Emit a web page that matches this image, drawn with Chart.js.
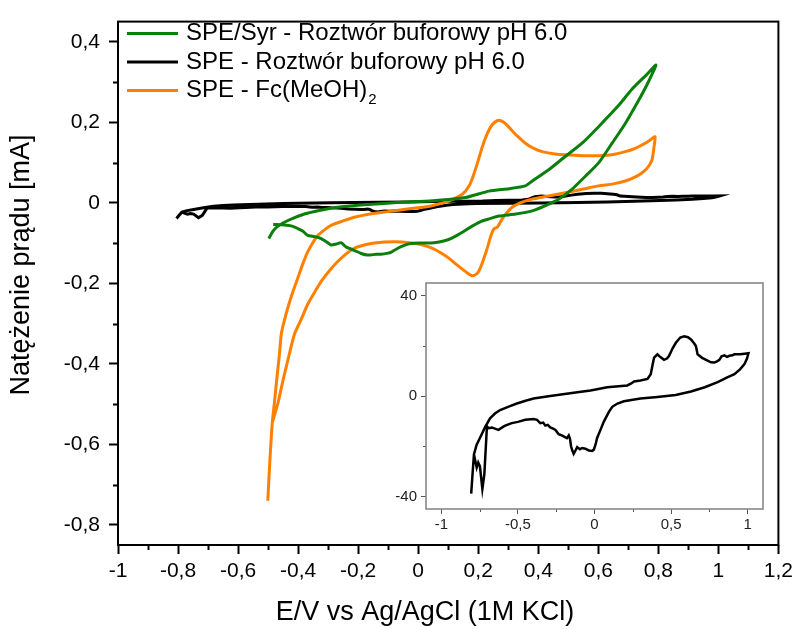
<!DOCTYPE html>
<html lang="pl">
<head>
<meta charset="utf-8">
<title>Woltamperometria cykliczna</title>
<script src="https://cdn.jsdelivr.net/npm/chart.js@4.4.0/dist/chart.umd.min.js"></script>
<style>
    html, body { margin: 0; padding: 0; background: #fff; }
    #wrap { position: relative; width: 798px; height: 629px; }
    #mainChart { position: absolute; left: 0; top: 0; }
    #insetChart { position: absolute; left: 395px; top: 270px; }
</style>
</head>
<body>
<div id="wrap">
    <canvas id="mainChart" width="798" height="629"></canvas>
    <canvas id="insetChart" width="380" height="265"></canvas>
</div>
<script>
// --- Dane: potencjał E [V] i natężenie prądu ---

// SPE/Syr w buforze pH 6.0 [mA]
const greenE = [-0.483, -0.445, -0.420, -0.401, -0.385, -0.368, -0.345, -0.323, -0.300, -0.290,
    -0.270, -0.257, -0.240, -0.213, -0.190, -0.168, -0.140, -0.124, -0.100, -0.091,
    -0.075, -0.057, -0.040, -0.024, 0.010, 0.053, 0.085, 0.114, 0.150, 0.180,
    0.210, 0.236, 0.269, 0.325, 0.380, 0.424, 0.468, 0.513, 0.557, 0.601,
    0.646, 0.690, 0.734, 0.760, 0.792,
    0.762, 0.712, 0.668, 0.601, 0.546, 0.490, 0.435, 0.380, 0.357, 0.302,
    0.236, 0.158, 0.048, -0.063, -0.102, -0.180, -0.268, -0.330, -0.379, -0.434,
    -0.467, -0.483, -0.498];
const greenI = [-0.054, -0.055, -0.058, -0.064, -0.070, -0.081, -0.084, -0.089, -0.100, -0.105,
    -0.102, -0.099, -0.110, -0.118, -0.126, -0.130, -0.128, -0.128, -0.125, -0.123,
    -0.116, -0.109, -0.104, -0.101, -0.100, -0.099, -0.095, -0.087, -0.072, -0.058,
    -0.046, -0.040, -0.033, -0.028, -0.020, -0.007, 0.009, 0.034, 0.066, 0.099,
    0.148, 0.197, 0.254, 0.290, 0.342,
    0.319, 0.282, 0.242, 0.189, 0.148, 0.115, 0.082, 0.054, 0.042, 0.035,
    0.029, 0.013, 0.005, 0.001, -0.001, -0.005, -0.011, -0.019, -0.028, -0.044,
    -0.058, -0.070, -0.089];

// SPE w Fc(MeOH)2 [mA]
const orangeE = [-0.501, -0.494, -0.486, -0.478, -0.470, -0.462, -0.456, -0.445, -0.434, -0.418,
    -0.401, -0.385, -0.368, -0.350, -0.334, -0.310, -0.290, -0.250, -0.213, -0.160,
    -0.102, -0.030, 0.042, 0.100, 0.147, 0.170, 0.185, 0.200, 0.214, 0.228,
    0.241, 0.255, 0.269, 0.285, 0.302, 0.330, 0.357, 0.385, 0.413, 0.450,
    0.490, 0.550, 0.601, 0.650, 0.690, 0.725, 0.756, 0.775, 0.789,
    0.785, 0.779, 0.765, 0.745, 0.720, 0.690, 0.650, 0.601, 0.550, 0.490,
    0.430, 0.380, 0.340, 0.313, 0.295, 0.280, 0.264, 0.252, 0.244, 0.236,
    0.228, 0.219, 0.208, 0.197, 0.180, 0.158, 0.130, 0.103, 0.075, 0.048,
    0.009, -0.030, -0.080, -0.146, -0.180, -0.213, -0.240, -0.268, -0.295, -0.323,
    -0.345, -0.368, -0.390, -0.412, -0.429, -0.450, -0.467, -0.486];
const orangeI = [-0.740, -0.640, -0.546, -0.490, -0.430, -0.375, -0.326, -0.290, -0.260, -0.222,
    -0.187, -0.153, -0.122, -0.098, -0.081, -0.066, -0.056, -0.045, -0.036, -0.028,
    -0.022, -0.015, -0.008, 0.004, 0.021, 0.042, 0.070, 0.105, 0.140, 0.168,
    0.188, 0.200, 0.205, 0.200, 0.188, 0.166, 0.148, 0.135, 0.127, 0.122,
    0.119, 0.117, 0.117, 0.120, 0.127, 0.136, 0.148, 0.157, 0.164,
    0.135, 0.107, 0.088, 0.074, 0.063, 0.054, 0.047, 0.042, 0.034, 0.025,
    0.016, 0.009, 0.000, -0.011, -0.025, -0.040, -0.060, -0.065, -0.078, -0.097,
    -0.118, -0.138, -0.160, -0.175, -0.181, -0.171, -0.155, -0.138, -0.124, -0.113,
    -0.104, -0.099, -0.097, -0.100, -0.105, -0.113, -0.127, -0.146, -0.168, -0.195,
    -0.222, -0.252, -0.290, -0.326, -0.375, -0.440, -0.497, -0.546];

// SPE w buforze pH 6.0 [µA] (wstawka), na wykresie głównym w mA
const blackE = [-0.805, -0.795, -0.787, -0.770, -0.748, -0.715, -0.682, -0.650, -0.616, -0.560,
    -0.507, -0.450, -0.398, -0.289, -0.136, -0.026, 0.083, 0.214, 0.240, 0.258,
    0.300, 0.346, 0.367, 0.378, 0.389, 0.411, 0.430, 0.454, 0.475, 0.487,
    0.510, 0.531, 0.560, 0.586, 0.610, 0.630, 0.650, 0.662, 0.673, 0.700,
    0.728, 0.760, 0.782, 0.800, 0.815, 0.830, 0.848, 0.865, 0.881, 0.900,
    0.913, 0.950, 0.980, 1.005,
    0.995, 0.979, 0.950, 0.913, 0.860, 0.804, 0.720, 0.630, 0.530, 0.411,
    0.300, 0.192, 0.150, 0.116, 0.094, 0.061, 0.039, 0.017, 0.007, -0.004,
    -0.015, -0.037, -0.060, -0.081, -0.095, -0.113, -0.125, -0.136, -0.146, -0.153,
    -0.160, -0.168, -0.180, -0.190, -0.210, -0.234, -0.255, -0.270, -0.289, -0.305,
    -0.321, -0.335, -0.354, -0.375, -0.398, -0.452, -0.500, -0.540, -0.575, -0.595,
    -0.627, -0.650, -0.670, -0.693, -0.700, -0.704, -0.719, -0.732, -0.748, -0.759,
    -0.769, -0.787];
const blackI = [-38.9, -30.0, -23.3, -19.5, -16.7, -12.5, -8.9, -7.0, -5.6, -4.2,
    -3.0, -1.9, -1.0, 0.0, 1.3, 2.2, 3.5, 4.2, 5.0, 5.8,
    6.2, 6.8, 8.7, 12.0, 15.3, 16.6, 15.5, 14.4, 15.0, 16.0,
    19.0, 21.2, 23.3, 23.8, 23.4, 22.5, 21.0, 19.9, 16.6, 15.3,
    14.4, 13.4, 13.3, 13.8, 14.4, 15.8, 16.2, 15.6, 16.0, 16.2,
    16.6, 16.6, 16.8, 17.0,
    14.8, 12.7, 10.6, 8.7, 7.2, 5.5, 3.5, 1.8, 0.4, -0.4,
    -1.0, -2.1, -3.0, -4.3, -6.3, -10.2, -13.5, -16.7, -19.3, -21.3,
    -21.9, -21.7, -21.0, -20.7, -21.2, -20.4, -21.8, -23.0, -21.5, -20.0,
    -17.0, -15.7, -16.8, -16.5, -15.8, -15.2, -13.5, -13.0, -12.5, -11.5,
    -11.8, -10.6, -10.8, -9.5, -9.2, -9.5, -10.3, -10.8, -11.6, -12.2,
    -13.5, -13.0, -12.6, -12.8, -12.2, -14.1, -31.1, -37.0, -28.0, -26.5,
    -28.5, -23.3];
const blackImA = blackI.map(v => v / 1000);

const legendLabels = ['SPE/Syr - Roztwór buforowy pH 6.0', 'SPE - Roztwór buforowy pH 6.0', 'SPE - Fc(MeOH)₂'];

// Podziałki
const xTicks = [-1, -0.8, -0.6, -0.4, -0.2, 0, 0.2, 0.4, 0.6, 0.8, 1, 1.2];
const xMinor = [-0.9, -0.7, -0.5, -0.3, -0.1, 0.1, 0.3, 0.5, 0.7, 0.9, 1.1];
const yTicks = [-0.8, -0.6, -0.4, -0.2, 0, 0.2, 0.4];
const yMinor = [-0.7, -0.5, -0.3, -0.1, 0.1, 0.3];
const insetXTicks = [-1, -0.5, 0, 0.5, 1];
const insetXMinor = [-0.75, -0.25, 0.25, 0.75];
const insetYTicks = [-40, 0, 40];
const insetYMinor = [-20, 20];

const FONT = "'Liberation Sans', Arial, Helvetica, sans-serif";
const GREEN = '#0b7f0b';
const ORANGE = '#ff8000';

function points(xs, ys) {
    return xs.map((x, i) => ({ x: x, y: ys[i] }));
}

function plFormat(v) {
    if (Math.abs(v) < 1e-9) return '0';
    return String(Math.round(v * 100) / 100).replace('.', ',');
}

// krótkie podziałki pośrednie + ramka obszaru wykresu
function frameAndMinor(cfg) {
    return {
        id: 'frameAndMinor',
        afterDraw(chart) {
            const ctx = chart.ctx;
            const a = chart.chartArea;
            ctx.save();
            ctx.strokeStyle = cfg.tickColor;
            ctx.lineWidth = cfg.tickWidth;
            ctx.beginPath();
            cfg.x.forEach(v => {
                const px = Math.round(chart.scales.x.getPixelForValue(v)) + 0.5;
                ctx.moveTo(px, a.bottom);
                ctx.lineTo(px, a.bottom + cfg.length);
            });
            cfg.y.forEach(v => {
                const py = Math.round(chart.scales.y.getPixelForValue(v)) + 0.5;
                ctx.moveTo(a.left, py);
                ctx.lineTo(a.left - cfg.length, py);
            });
            ctx.stroke();
            ctx.strokeStyle = cfg.frameColor;
            ctx.lineWidth = cfg.frameWidth;
            ctx.strokeRect(a.left, a.top, a.right - a.left, a.bottom - a.top);
            ctx.restore();
        }
    };
}

// legenda w lewym górnym rogu, z indeksem dolnym w Fc(MeOH)2
const cornerLegend = {
    id: 'cornerLegend',
    afterDraw(chart) {
        const ctx = chart.ctx;
        const rows = [33.5, 62, 90.5];
        ctx.save();
        ctx.textBaseline = 'middle';
        ctx.textAlign = 'left';
        legendLabels.forEach((label, i) => {
            const ds = chart.data.datasets.find(d => d.label === label);
            ctx.strokeStyle = ds.borderColor;
            ctx.lineWidth = 3;
            ctx.beginPath();
            ctx.moveTo(127, rows[i]);
            ctx.lineTo(178, rows[i]);
            ctx.stroke();

            ctx.fillStyle = '#000';
            ctx.font = '24px ' + FONT;
            const sub = label.indexOf('₂');
            const main = sub >= 0 ? label.slice(0, sub) : label;
            ctx.fillText(main, 186, rows[i]);
            if (sub >= 0) {
                const w = ctx.measureText(main).width;
                ctx.font = '15px ' + FONT;
                ctx.fillText('2', 186 + w + 1, rows[i] + 9);
            }
        });
        ctx.restore();
    }
};

const axisTitles = {
    id: 'axisTitles',
    afterDraw(chart) {
        const ctx = chart.ctx;
        ctx.save();
        ctx.fillStyle = '#000';
        ctx.font = '27px ' + FONT;
        ctx.textAlign = 'center';
        ctx.textBaseline = 'middle';
        ctx.fillText('E/V vs Ag/AgCl (1M KCl)', 425, 613);
        ctx.translate(22, 265);
        ctx.rotate(-Math.PI / 2);
        ctx.fillText('Natężenie prądu [mA]', 0, 0);
        ctx.restore();
    }
};

document.addEventListener('DOMContentLoaded', function () {

    Chart.defaults.font.family = FONT;
    Chart.defaults.color = '#000';

    new Chart(document.getElementById('mainChart'), {
        type: 'scatter',
        data: {
            datasets: [
                { label: legendLabels[0], data: points(greenE, greenI), borderColor: GREEN, order: 0, tension: 0.2 },
                { label: legendLabels[1], data: points(blackE, blackImA), borderColor: '#000', order: 2, tension: 0 },
                { label: legendLabels[2], data: points(orangeE, orangeI), borderColor: ORANGE, order: 1, tension: 0.25 }
            ].map(ds => Object.assign(ds, { showLine: true, pointRadius: 0, borderWidth: 3, fill: false }))
        },
        options: {
            responsive: false,
            animation: false,
            layout: { padding: { left: 0, right: 18, top: 13, bottom: 0 } },
            plugins: { legend: { display: false }, tooltip: { enabled: false } },
            scales: {
                x: {
                    type: 'linear', min: -1, max: 1.2,
                    afterBuildTicks: s => { s.ticks = xTicks.map(v => ({ value: v })); },
                    afterFit: s => { s.height = 84; },
                    ticks: { font: { size: 21 }, color: '#000', padding: 5, maxRotation: 0, autoSkip: false, callback: v => plFormat(v) },
                    grid: { drawOnChartArea: false, tickLength: 9, tickWidth: 2, tickColor: '#000' },
                    border: { display: false }
                },
                y: {
                    type: 'linear', min: -0.85, max: 0.45,
                    afterBuildTicks: s => { s.ticks = yTicks.map(v => ({ value: v })); },
                    afterFit: s => { s.width = 118; },
                    ticks: { font: { size: 21 }, color: '#000', padding: 9, autoSkip: false, callback: v => plFormat(v) },
                    grid: { drawOnChartArea: false, tickLength: 9, tickWidth: 2, tickColor: '#000' },
                    border: { display: false }
                }
            }
        },
        plugins: [
            frameAndMinor({ x: xMinor, y: yMinor, length: 5, tickColor: '#000', tickWidth: 2, frameColor: '#000', frameWidth: 2 }),
            cornerLegend,
            axisTitles
        ]
    });

    // wstawka: SPE w buforze, prąd w µA
    new Chart(document.getElementById('insetChart'), {
        type: 'scatter',
        data: {
            datasets: [{
                label: legendLabels[1], data: points(blackE, blackI), borderColor: '#000',
                showLine: true, pointRadius: 0, borderWidth: 2.5, tension: 0, fill: false
            }]
        },
        options: {
            responsive: false,
            animation: false,
            layout: { padding: { left: 0, right: 12, top: 9, bottom: 0 } },
            plugins: {
                legend: { display: false }, tooltip: { enabled: false }
            },
            scales: {
                x: {
                    type: 'linear', min: -1.1, max: 1.1,
                    afterBuildTicks: s => { s.ticks = insetXTicks.map(v => ({ value: v })); },
                    afterFit: s => { s.height = 26; },
                    ticks: { font: { size: 15 }, color: '#222', padding: 2, maxRotation: 0, autoSkip: false, callback: v => plFormat(v) },
                    grid: { drawOnChartArea: false, tickLength: 5, tickWidth: 1, tickColor: '#555' },
                    border: { display: false }
                },
                y: {
                    type: 'linear', min: -45, max: 45,
                    afterBuildTicks: s => { s.ticks = insetYTicks.map(v => ({ value: v })); },
                    afterFit: s => { s.width = 31; },
                    ticks: { font: { size: 15 }, color: '#222', padding: 4, autoSkip: false, callback: v => plFormat(v) },
                    grid: { drawOnChartArea: false, tickLength: 5, tickWidth: 1, tickColor: '#555' },
                    border: { display: false }
                }
            }
        },
        plugins: [
            frameAndMinor({ x: insetXMinor, y: insetYMinor, length: 3, tickColor: '#555', tickWidth: 1, frameColor: '#808080', frameWidth: 1.5 })
        ]
    });

});
</script>
</body>
</html>
